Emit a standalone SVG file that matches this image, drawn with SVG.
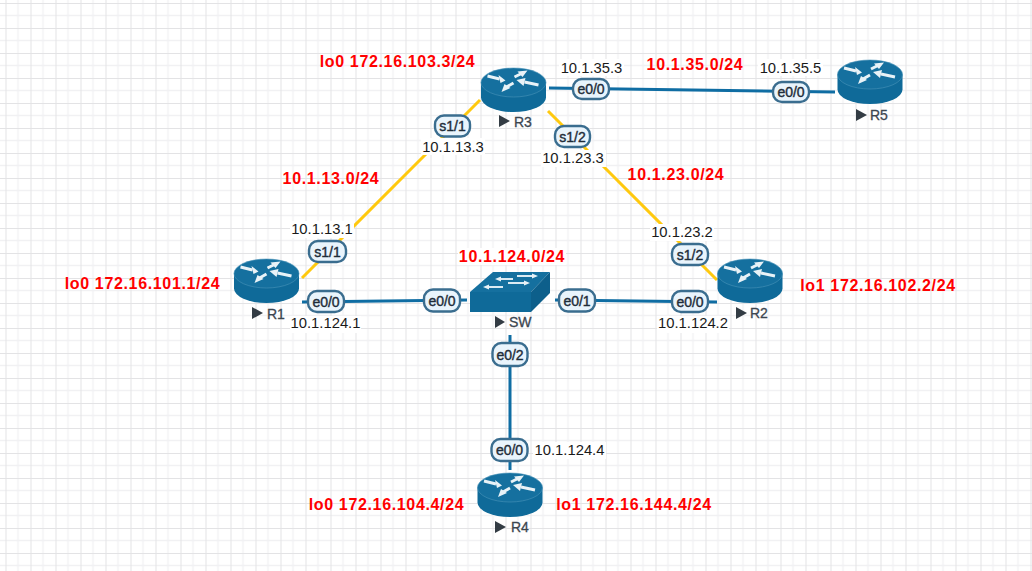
<svg xmlns="http://www.w3.org/2000/svg" width="1032" height="571" viewBox="0 0 1032 571">
<style>
text{font-family:"Liberation Sans",Arial,sans-serif}
.ip{font-size:14.8px;fill:#1a1a1a;text-anchor:middle}
.net{font-size:16px;font-weight:700;fill:#ff0000;text-anchor:middle;letter-spacing:.65px}
.port{font-size:14px;fill:#1f2d3a;text-anchor:middle;stroke:#1f2d3a;stroke-width:.4px}
.name{font-size:14px;fill:#3c4650;stroke:#3c4650;stroke-width:.3px}
.pill{fill:#e9f4fc;stroke:#3a6d8f;stroke-width:2.4}
.bg{fill:#fff}
.blue{stroke:#0f6da3;stroke-width:3;fill:none}
.yel{stroke:#ffc90e;stroke-width:3;fill:none}
.tri{fill:#333c44}
.body{fill:#0f6a99}
.top{fill:#15709f;stroke:#4a93b8;stroke-width:.6}
.arr{fill:#e8f2f7}
.shaft{stroke:#e8f2f7;stroke-width:3;fill:none}
.thin{stroke:#dcebf3;stroke-width:1.8;fill:none}
</style>
<defs>
<pattern id="grid" width="25" height="25" patternUnits="userSpaceOnUse" x="5.5" y="3">
<path d="M12.5 0V25M0 12.5H25" stroke="#f1f1f3" stroke-width="1.5" fill="none"/>
<path d="M0 0V25M0 0H25" stroke="#e3e3e5" stroke-width="2" fill="none"/>
</pattern>
<g id="router">
<path class="body" d="M-32.500-7.500V7.500A32.500 14.500 0 0 0 32.500 7.500V-7.500Z"/>
<ellipse class="top" cx="0" cy="-7.500" rx="32.500" ry="14.500"/>
<path class="shaft" d="M-26-14L-14-11M25-5L11-8M1-13L8-16.500M0-7L-7-3"/>
<path class="arr" d="M-8-9.500L-15-15L-13-7ZM3-10L12-12L10-4ZM14-19.500L4-18.500L9-13ZM-12 2L-9-6L-3-2Z"/>
</g>
</defs>
<rect width="1032" height="571" fill="#fff"/>
<rect width="1032" height="571" fill="url(#grid)"/>
<g id="connectors">
<path class="yel" d="M302 278L480 100"/>
<path class="yel" d="M548 111L717 280"/>
<path class="blue" d="M549 88L835 92"/>
<path class="blue" d="M302 302L467 300"/>
<path class="blue" d="M555 300L717 302"/>
<path class="blue" d="M510 335V470"/>
</g>
<g id="labels-ip">
<rect class="bg" x="559" y="59" width="65" height="17"/><text class="ip" x="591.500" y="73">10.1.35.3</text>
<rect class="bg" x="758" y="59" width="65" height="17"/><text class="ip" x="790.500" y="73">10.1.35.5</text>
<rect class="bg" x="421" y="138" width="64" height="17"/><text class="ip" x="453" y="152">10.1.13.3</text>
<rect class="bg" x="541" y="150" width="65" height="17"/><text class="ip" x="573" y="163">10.1.23.3</text>
<rect class="bg" x="290" y="221" width="64" height="17"/><text class="ip" x="322" y="234">10.1.13.1</text>
<rect class="bg" x="650" y="224" width="64" height="17"/><text class="ip" x="682" y="237">10.1.23.2</text>
<rect class="bg" x="290" y="316" width="71" height="17"/><text class="ip" x="325.500" y="328">10.1.124.1</text>
<rect class="bg" x="657" y="316" width="72" height="17"/><text class="ip" x="693" y="328">10.1.124.2</text>
<rect class="bg" x="533" y="442" width="73" height="17"/><text class="ip" x="569.500" y="455">10.1.124.4</text>
</g>
<g id="labels-net">
<text class="net" x="397.500" y="67">lo0 172.16.103.3/24</text>
<text class="net" x="695" y="70">10.1.35.0/24</text>
<text class="net" x="331" y="184">10.1.13.0/24</text>
<text class="net" x="676" y="180">10.1.23.0/24</text>
<rect class="bg" x="458" y="248" width="108" height="17"/><text class="net" x="512" y="262">10.1.124.0/24</text>
<text class="net" x="142.500" y="289">lo0 172.16.101.1/24</text>
<text class="net" x="878" y="291">lo1 172.16.102.2/24</text>
<text class="net" x="386.500" y="510">lo0 172.16.104.4/24</text>
<text class="net" x="634" y="510">lo1 172.16.144.4/24</text>
</g>
<g id="R3"><use href="#router" x="513.500" y="90"/><path class="tri" d="M499 115L510 121L499 127Z"/><text class="name" x="514" y="127">R3</text></g>
<g id="R5"><use href="#router" x="870" y="82"/><path class="tri" d="M856 109L867 115L856 121Z"/><text class="name" x="870" y="120">R5</text></g>
<g id="R1"><use href="#router" x="266.500" y="281"/><path class="tri" d="M252 307L263 313L252 319Z"/><text class="name" x="267" y="319">R1</text></g>
<g id="R2"><use href="#router" x="750" y="281"/><path class="tri" d="M736 307L747 313L736 319Z"/><text class="name" x="750" y="318">R2</text></g>
<g id="R4"><use href="#router" x="510" y="495"/><path class="tri" d="M495 521L506 527L495 533Z"/><text class="name" x="511" y="532">R4</text></g>
<g id="SW">
<path fill="#0f6a99" d="M470 292H531V312H470Z"/>
<path fill="#15709f" d="M470 292L493 272H550L531 292Z"/>
<path fill="#0d5f8b" d="M531 292L550 272V293L531 312Z"/>
<path class="thin" d="M500 279H513M517 276H533M488 287H503M508 283H525"/>
<path class="arr" d="M495 279L501 276.500V281.500ZM538 276L532 273.500V278.500ZM483 287L489 284.500V289.500ZM530 283L524 280.500V285.500Z"/>
<path class="tri" d="M495 316L505 322L495 328Z"/><text class="name" x="509" y="327">SW</text>
</g>
<g id="ports">
<rect class="pill" x="435" y="115.500" width="35" height="21" rx="9"/><text class="port" x="452.500" y="131">s1/1</text>
<rect class="pill" x="555" y="126" width="35" height="21" rx="9"/><text class="port" x="572.500" y="141.500">s1/2</text>
<rect class="pill" x="573" y="79" width="36" height="20" rx="9"/><text class="port" x="591" y="94">e0/0</text>
<rect class="pill" x="773" y="82" width="36" height="20" rx="9"/><text class="port" x="791" y="97">e0/0</text>
<rect class="pill" x="309" y="241" width="37" height="21" rx="9"/><text class="port" x="327.500" y="256.500">s1/1</text>
<rect class="pill" x="672" y="244" width="36" height="21" rx="9"/><text class="port" x="690" y="259.500">s1/2</text>
<rect class="pill" x="308" y="291" width="36" height="21" rx="9"/><text class="port" x="326" y="306.500">e0/0</text>
<rect class="pill" x="424" y="289.500" width="36" height="22" rx="9"/><text class="port" x="442" y="305.500">e0/0</text>
<rect class="pill" x="559" y="289.500" width="36" height="22" rx="9"/><text class="port" x="577" y="305.500">e0/1</text>
<rect class="pill" x="672" y="291" width="36" height="21" rx="9"/><text class="port" x="690" y="306.500">e0/0</text>
<rect class="pill" x="492.500" y="343" width="35" height="23" rx="9"/><text class="port" x="510" y="359.500">e0/2</text>
<rect class="pill" x="491.500" y="439" width="36" height="22" rx="9"/><text class="port" x="509.500" y="455">e0/0</text>
</g>
</svg>
